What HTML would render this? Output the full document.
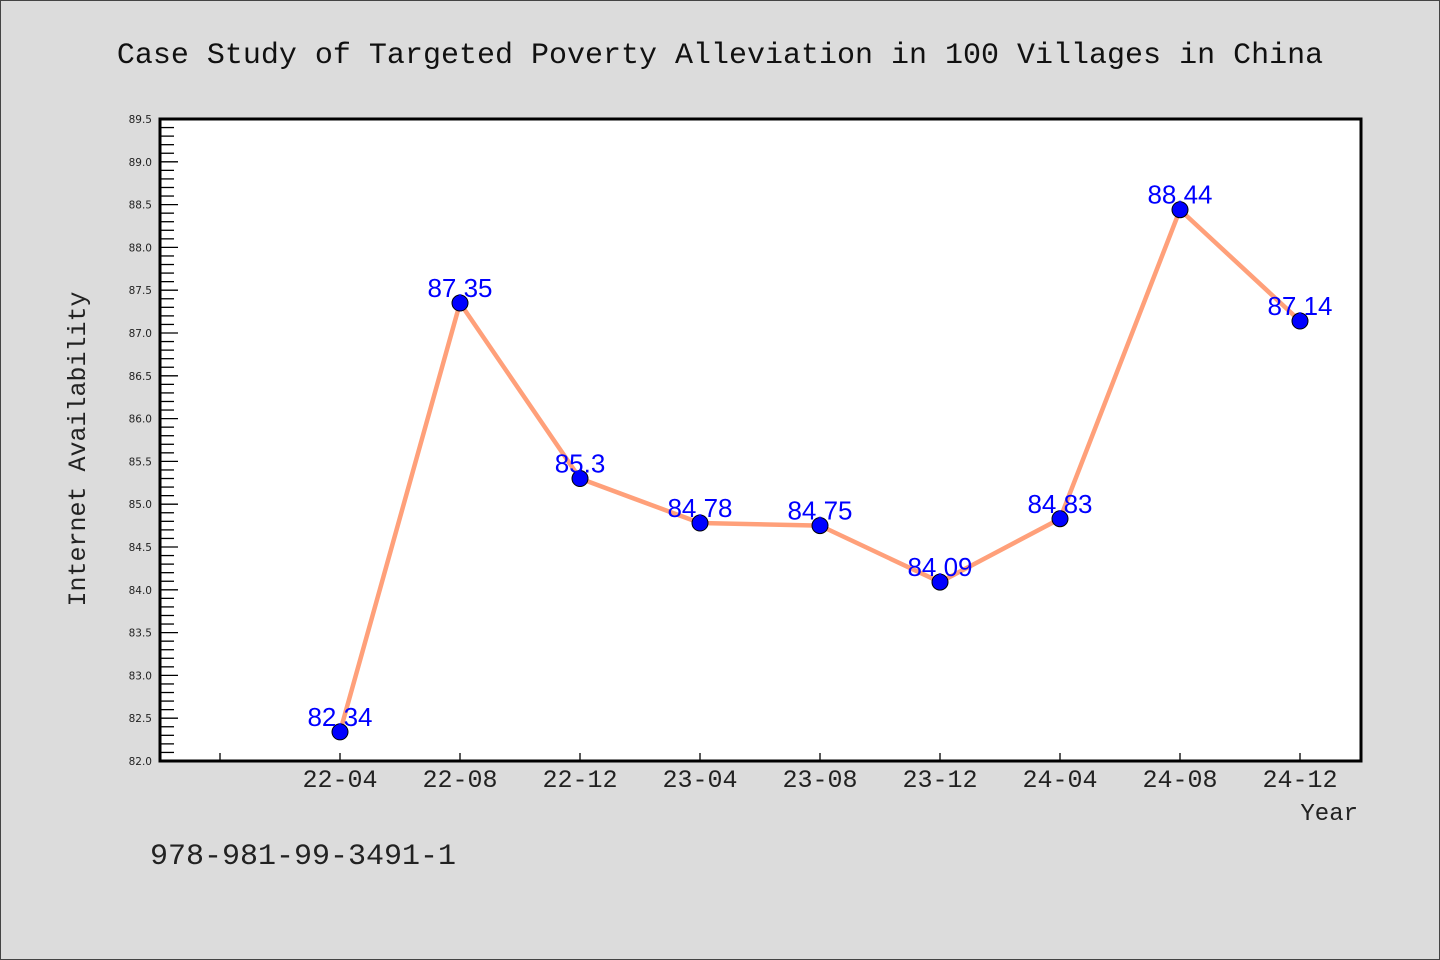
<!DOCTYPE html>
<html><head><meta charset="utf-8"><style>
html,body{margin:0;padding:0;background:#dcdcdc}
svg{display:block}
</style></head><body>
<svg id="chart" width="1440" height="960" xmlns="http://www.w3.org/2000/svg">
<rect x="0.5" y="0.5" width="1439" height="959" fill="#dcdcdc" stroke="#444" stroke-width="1"/>
<text x="720" y="63" text-anchor="middle" font-family="'Liberation Mono', monospace" font-size="30" fill="#111">Case Study of Targeted Poverty Alleviation in 100 Villages in China</text>
<rect x="160" y="119" width="1201" height="642" fill="#fff" stroke="#000" stroke-width="3"/>
<g id="yaxis"></g>
<g id="xaxis"></g>
<g id="series"></g>
<text transform="translate(85,449) rotate(-90)" text-anchor="middle" font-family="'Liberation Mono', monospace" font-size="25" fill="#222">Internet Availability</text>
<text x="1358" y="820" text-anchor="end" font-family="'Liberation Mono', monospace" font-size="24" fill="#222">Year</text>
<text x="150" y="864" font-family="'Liberation Mono', monospace" font-size="30" fill="#222">978-981-99-3491-1</text>
</svg>
<script>
const categories = ["22-04","22-08","22-12","23-04","23-08","23-12","24-04","24-08","24-12"];
const values = [82.34, 87.35, 85.3, 84.78, 84.75, 84.09, 84.83, 88.44, 87.14];
const valueLabels = ["82.34","87.35","85.3","84.78","84.75","84.09","84.83","88.44","87.14"];
const yTicks = ["82.0","82.5","83.0","83.5","84.0","84.5","85.0","85.5","86.0","86.5","87.0","87.5","88.0","88.5","89.0","89.5"];
const NS="http://www.w3.org/2000/svg";
const yMin=82, yMax=89.5, plotTop=119, plotBottom=761;
function y(v){return plotBottom-(v-yMin)/(yMax-yMin)*(plotBottom-plotTop);}
function x(i){return 340+120*i;}
function mk(tag,attrs,parent){const e=document.createElementNS(NS,tag);for(const k in attrs)e.setAttribute(k,attrs[k]);parent.appendChild(e);return e;}
const ya=document.getElementById('yaxis');
for(let k=0;k<=75;k++){
  const v=yMin+k*0.1;
  const major=k%5===0;
  const t=mk('line',{x1:160,x2:major?178:174,y1:y(v),y2:y(v),stroke:'#000','stroke-width':1.3},ya);
  
  
}
yTicks.forEach(s=>{
  const t=mk('text',{x:152,y:y(parseFloat(s))+4,'text-anchor':'end','font-family':"'DejaVu Sans', sans-serif",'font-size':10.5,fill:'#222'},ya);
  t.textContent=s;
  
  
});
const xa=document.getElementById('xaxis');
for(let i=-1;i<categories.length;i++){
  const t=mk('line',{x1:x(i),x2:x(i),y1:761,y2:753,stroke:'#000','stroke-width':1.3},xa);
  
  
}
categories.forEach((c,i)=>{
  const t=mk('text',{x:x(i),y:787,'text-anchor':'middle','font-family':"'Liberation Mono', monospace",'font-size':25,fill:'#222'},xa);
  t.textContent=c;
  
  
});
const sg=document.getElementById('series');
const pl=mk('polyline',{points:values.map((v,i)=>x(i)+','+y(v)).join(' '),fill:'none',stroke:'#ffa07a','stroke-width':4.5,'stroke-linejoin':'round'},sg);


values.forEach((v,i)=>{
  const c=mk('circle',{cx:x(i),cy:y(v),r:8,fill:'#0000ff',stroke:'#000','stroke-width':1},sg);
  
  
});
values.forEach((v,i)=>{
  const t=mk('text',{x:x(i),y:y(v)-6,'text-anchor':'middle','font-family':"'Liberation Sans', sans-serif",'font-size':26,fill:'#0000ff'},sg);
  t.textContent=valueLabels[i];
  
  
});
</script>
</body></html>
